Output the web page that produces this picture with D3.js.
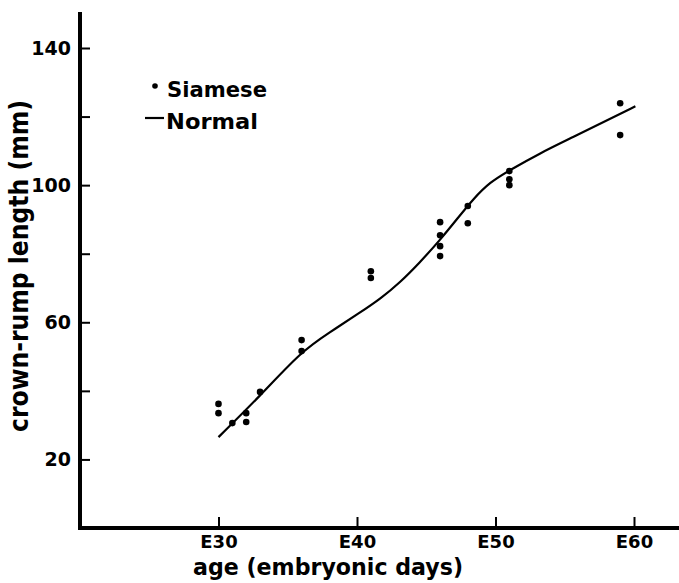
<!DOCTYPE html>
<html>
<head>
<meta charset="utf-8">
<script src="https://cdn.jsdelivr.net/npm/d3@7"></script>
<style>
  body { margin: 0; background: #fff; }
  text { font-family: "DejaVu Sans", sans-serif; font-weight: 700; fill: #000; }
</style>
</head>
<body>
<div class="chart"></div>
<script>
'use strict';

// Siamese embryos: age (days) and crown-rump length (mm)
var siameseDays = [30, 30, 31, 32, 32, 33, 36, 36, 41, 41, 46, 46, 46, 46, 48, 48, 51, 51, 51, 59, 59];
var siameseLength = [36.2, 33.5, 30.6, 33.5, 30.9, 39.7, 54.8, 51.6, 74.9, 72.9, 89.2, 85.4, 82.2, 79.3, 93.9, 88.9, 104.1, 101.7, 100, 123.9, 114.6];

// Normal growth curve
var normalDays = [30, 33, 36, 38, 40.2, 41.7, 43.1, 44.5, 46, 47.3, 48.4, 49.6, 51, 53.2, 55.6, 58, 60.1];
var normalLength = [26.5, 38.5, 51.6, 57, 62.8, 66.9, 71.6, 77.3, 84, 90.5, 96, 100.9, 104.3, 109.3, 114, 118.8, 123];

var yTicks = [20, 40, 60, 80, 100, 120, 140];
var yTickLabels = ['20', '', '60', '', '100', '', '140'];
var xTicks = [30, 40, 50, 60];
var xTickLabels = ['E30', 'E40', 'E50', 'E60'];

var W = 679, H = 583;
var x = d3.scaleLinear().domain([20, 60]).range([80, 634]);
var y = d3.scaleLinear().domain([0, 140]).range([528, 48]);

var svg = d3.select('.chart').append('svg')
    .attr('width', W)
    .attr('height', H);

// axes
var xAxis = d3.axisBottom(x)
    .tickValues(xTicks)
    .tickSize(-11)
    .tickSizeOuter(0)
    .tickFormat(function(d, i) { return xTickLabels[i]; });
var gx = svg.append('g')
    .attr('class', 'axis axis--x')
    .attr('transform', 'translate(0,' + y(0) + ')')
    .call(xAxis);
gx.select('.domain').remove();
gx.selectAll('.tick line').attr('stroke', '#000').attr('stroke-width', 2);
gx.selectAll('.tick text').style('font-size', '18px').attr('dy', '0.36em').attr('y', 14);

var yAxis = d3.axisLeft(y)
    .tickValues(yTicks)
    .tickSize(-10)
    .tickSizeOuter(0)
    .tickPadding(9)
    .tickFormat(function(d, i) { return yTickLabels[i]; });
var gy = svg.append('g')
    .attr('class', 'axis axis--y')
    .attr('transform', 'translate(' + x(20) + ',0)')
    .call(yAxis);
gy.select('.domain').remove();
gy.selectAll('.tick line').attr('stroke', '#000').attr('stroke-width', 2);
gy.selectAll('.tick text').style('font-size', '19px');

// heavy axis lines
svg.append('line')
    .attr('x1', x(20)).attr('x2', x(20))
    .attr('y1', y(150.5)).attr('y2', y(0) + 2)
    .attr('stroke', '#000').attr('stroke-width', 4);
svg.append('line')
    .attr('x1', x(20) - 2).attr('x2', W)
    .attr('y1', y(0)).attr('y2', y(0))
    .attr('stroke', '#000').attr('stroke-width', 4);

// normal curve (smoothed through the traced points)
var normal = normalDays.map(function(d, i) { return [d, normalLength[i]]; });
var line = d3.line()
    .curve(d3.curveBasis)
    .x(function(d) { return x(d[0]); })
    .y(function(d) { return y(d[1]); });
svg.append('path')
    .datum(normal)
    .attr('d', line)
    .attr('fill', 'none')
    .attr('stroke', '#000')
    .attr('stroke-width', 2.2);

// siamese points
svg.append('g')
    .selectAll('circle')
    .data(siameseDays)
    .enter().append('circle')
      .attr('cx', function(d) { return x(d); })
      .attr('cy', function(d, i) { return y(siameseLength[i]); })
      .attr('r', 3.3)
      .attr('fill', '#000');

// legend
var legend = svg.append('g');
legend.append('circle').attr('cx', 155).attr('cy', 86).attr('r', 2.8).attr('fill', '#000');
legend.append('text').attr('x', 167).attr('y', 97).style('font-size', '21px')
    .attr('textLength', 100).attr('lengthAdjust', 'spacingAndGlyphs').text('Siamese');
legend.append('line').attr('x1', 145).attr('x2', 164).attr('y1', 118).attr('y2', 118)
    .attr('stroke', '#000').attr('stroke-width', 2.2);
legend.append('text').attr('x', 166).attr('y', 129).style('font-size', '21px')
    .attr('textLength', 92).attr('lengthAdjust', 'spacingAndGlyphs').text('Normal');

// axis titles
svg.append('text')
    .attr('transform', 'translate(28,266) rotate(-90)')
    .attr('text-anchor', 'middle')
    .style('font-size', '26px')
    .attr('textLength', 332).attr('lengthAdjust', 'spacingAndGlyphs')
    .text('crown-rump length (mm)');
svg.append('text')
    .attr('x', 328)
    .attr('y', 575)
    .attr('text-anchor', 'middle')
    .style('font-size', '23px')
    .attr('textLength', 270).attr('lengthAdjust', 'spacingAndGlyphs')
    .text('age (embryonic days)');
</script>
</body>
</html>
